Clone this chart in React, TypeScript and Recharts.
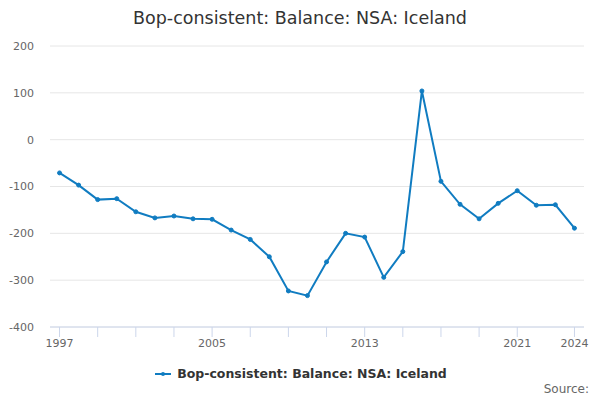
import React from "react";
import { LineChart, Line, XAxis, YAxis, CartesianGrid } from "recharts";

const years = [1997, 1998, 1999, 2000, 2001, 2002, 2003, 2004, 2005, 2006, 2007, 2008, 2009, 2010, 2011, 2012, 2013, 2014, 2015, 2016, 2017, 2018, 2019, 2020, 2021, 2022, 2023, 2024];
const balance = [-71, -97, -128, -126, -154, -167, -163, -169, -170, -193, -213, -250, -323, -333, -261, -200, -208, -294, -239, 104, -89, -138, -169, -136, -109, -140, -139, -189];
const xTicks = [1997, 1999, 2001, 2003, 2005, 2007, 2009, 2011, 2013, 2015, 2017, 2019, 2021, 2024];
const xLabels = [1997, 2005, 2013, 2021, 2024];
const yTicks = [-400, -300, -200, -100, 0, 100, 200];
const seriesName = "Bop-consistent: Balance: NSA: Iceland";
const title = "Bop-consistent: Balance: NSA: Iceland";

const data = years.map((y, i) => ({ year: y, value: balance[i] }));

const COLOR = "#107cc1";
const FONT = "'DejaVu Sans', sans-serif";

const XTick = (props: any) => {
  const { x, y, payload } = props;
  if (!xLabels.includes(payload.value)) return null;
  return (
    <text x={x} y={y} dy="0.71em" textAnchor="middle" fill="#666" fontSize={11} fontFamily={FONT}>
      {payload.value}
    </text>
  );
};

const YTick = (props: any) => {
  const { y, payload } = props;
  return (
    <text x={34} y={y} dy="0.35em" textAnchor="end" fill="#666" fontSize={11} fontFamily={FONT}>
      {payload.value}
    </text>
  );
};

export default function App() {
  return (
    <div style={{ position: "absolute", left: 0, top: 0, width: 600, height: 400, background: "#fff", fontFamily: FONT }}>
      <div style={{ position: "absolute", top: 8, left: 0, width: 600, textAlign: "center", fontSize: 17.5, color: "#333" }}>
        {title}
      </div>
      <LineChart width={600} height={400} data={data} margin={{ top: 46, right: 16, bottom: 43, left: 0 }}>
        <CartesianGrid horizontal={true} vertical={false} stroke="#e6e6e6" />
        <XAxis
          dataKey="year"
          type="number"
          domain={[1996.5, 2024.5]}
          ticks={xTicks}
          interval={0}
          height={30}
          tickSize={10}
          tickMargin={2}
          stroke="#ccd6eb"
          tick={<XTick />}
        />
        <YAxis
          type="number"
          domain={[-400, 200]}
          ticks={yTicks}
          width={50}
          axisLine={false}
          tickLine={false}
          tick={<YTick />}
        />
        <Line
          type="linear"
          dataKey="value"
          name={seriesName}
          stroke={COLOR}
          strokeWidth={2}
          dot={{ r: 2, fill: COLOR, stroke: COLOR, strokeWidth: 1 }}
          isAnimationActive={false}
        />
      </LineChart>
      <div style={{ position: "absolute", top: 366, left: 0, width: 600, display: "flex", justifyContent: "center", alignItems: "center" }}>
        <svg width={20} height={12} style={{ marginRight: 4 }}>
          <line x1={2} y1={6} x2={18} y2={6} stroke={COLOR} strokeWidth={2} />
          <circle cx={10} cy={6} r={2} fill={COLOR} />
        </svg>
        <span style={{ fontSize: 12.5, fontWeight: "bold", color: "#333" }}>{seriesName}</span>
      </div>
      <div style={{ position: "absolute", top: 382, right: 11, fontSize: 12, color: "#666" }}>Source:</div>
    </div>
  );
}
